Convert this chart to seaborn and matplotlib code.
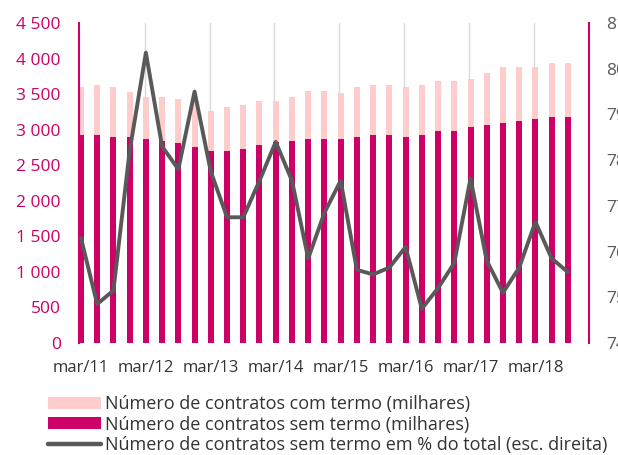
import matplotlib
matplotlib.use("Agg")
import matplotlib.pyplot as plt
import seaborn as sns
import pandas as pd
import numpy as np
from matplotlib.patches import Patch
from matplotlib.lines import Line2D

periods = ["mar/11", "jun/11", "set/11", "dez/11",
           "mar/12", "jun/12", "set/12", "dez/12",
           "mar/13", "jun/13", "set/13", "dez/13",
           "mar/14", "jun/14", "set/14", "dez/14",
           "mar/15", "jun/15", "set/15", "dez/15",
           "mar/16", "jun/16", "set/16", "dez/16",
           "mar/17", "jun/17", "set/17", "dez/17",
           "mar/18", "jun/18", "set/18"]

sem_termo = [2925, 2925, 2900, 2900, 2870, 2840, 2810, 2755, 2700, 2700, 2730,
             2785, 2820, 2840, 2870, 2870, 2870, 2900, 2925, 2925, 2900, 2925,
             2980, 2980, 3035, 3065, 3095, 3120, 3150, 3180, 3180]

com_termo = [670, 700, 700, 625, 590, 620, 620, 665, 565, 620, 620,
             620, 585, 620, 680, 680, 650, 700, 700, 700, 700, 700,
             705, 705, 675, 735, 785, 760, 730, 760, 760]

pct_sem_termo = [76.3, 74.85, 75.15, 78.2, 80.35, 78.3, 77.8, 79.5, 77.75, 76.75, 76.75,
                 77.55, 78.4, 77.55, 75.85, 76.85, 77.55, 75.6, 75.5, 75.65, 76.1, 74.75,
                 75.2, 75.75, 77.6, 75.8, 75.1, 75.65, 76.65, 75.85, 75.55]

left_ticks = [0, 500, 1000, 1500, 2000, 2500, 3000, 3500, 4000, 4500]
right_ticks = [74, 75, 76, 77, 78, 79, 80, 81]

label_com = "Número de contratos com termo (milhares)"
label_sem = "Número de contratos sem termo (milhares)"
label_pct = "Número de contratos sem termo em % do total (esc. direita)"

MAGENTA = "#CC0066"
PINK = "#FFCCCC"
GREY = "#595959"
TXT = "#333333"

df = pd.DataFrame({"periodo": periods, "sem": sem_termo, "com": com_termo,
                   "pct": pct_sem_termo})
df["total"] = df["sem"] + df["com"]
df["pos"] = np.arange(len(df))

sns.set_theme(style="white")
plt.rcParams["font.family"] = ["Open Sans", "DejaVu Sans"]

fig = plt.figure(figsize=(6.18, 4.55), dpi=100)
ax = fig.add_axes([79 / 618, 1 - 343 / 455, (589 - 79) / 618, (343 - 23) / 455])

# vertical gridlines every 4 quarters
for p in df["pos"][4::4]:
    ax.axvline(p - 0.08, color="#D9D9D9", lw=1.0, zorder=0)

sns.barplot(data=df, x="pos", y="total", color=PINK, width=0.37, ax=ax,
            native_scale=True, saturation=1, zorder=2, edgecolor="none")
sns.barplot(data=df, x="pos", y="sem", color=MAGENTA, width=0.37, ax=ax,
            native_scale=True, saturation=1, zorder=3, edgecolor="none")

ax.set_xlim(-0.12, 31.3)
ax.set_ylim(0, 4500)
ax.set_yticks(left_ticks)
ax.set_yticklabels([f"{v:,}".replace(",", " ") for v in left_ticks])
ax.set_xticks(df["pos"][::4])
ax.set_xticklabels(df["periodo"][::4])
ax.tick_params(axis="y", length=0, pad=13, labelsize=12.5, labelcolor=MAGENTA)
ax.tick_params(axis="x", length=0, pad=12, labelsize=12, labelcolor=TXT)
ax.set_xlabel("")
ax.set_ylabel("")
for s in ["top", "right", "bottom"]:
    ax.spines[s].set_visible(False)
ax.spines["left"].set_color(MAGENTA)
ax.spines["left"].set_linewidth(1.5)
ax.set_facecolor("none")

ax2 = ax.twinx()
sns.lineplot(data=df, x="pos", y="pct", color=GREY, lw=2.8, ax=ax2, zorder=5)
ax2.set_ylim(74, 81)
ax2.set_yticks(right_ticks)
ax2.set_yticklabels([str(v) for v in right_ticks])
ax2.tick_params(axis="y", length=0, pad=12.5, labelsize=12.5, labelcolor=GREY)
ax2.set_xlabel("")
ax2.set_ylabel("")
for s in ["top", "left", "bottom"]:
    ax2.spines[s].set_visible(False)
ax2.spines["right"].set_color(MAGENTA)
ax2.spines["right"].set_linewidth(1.5)
ax2.grid(False)
ax.grid(False)

handles = [Patch(facecolor=PINK, edgecolor="none"),
           Patch(facecolor=MAGENTA, edgecolor="none"),
           Line2D([0], [0], color=GREY, lw=3.2)]
leg = fig.legend(handles, [label_com, label_sem, label_pct],
                 loc="upper left", bbox_to_anchor=(41 / 618, 1 - 388 / 455),
                 frameon=False, fontsize=13.0, handlelength=2.9, handleheight=0.6,
                 handletextpad=0.22, labelspacing=0.13, borderaxespad=0)
for t in leg.get_texts():
    t.set_color(TXT)

fig.savefig("out.png", dpi=100)
